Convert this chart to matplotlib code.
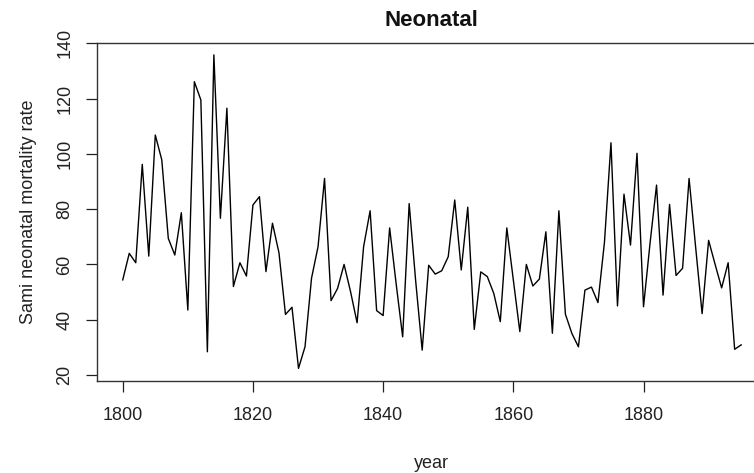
import matplotlib
matplotlib.use("Agg")
import matplotlib.pyplot as plt

years = list(range(1800, 1896))
rate = [
    54.4, 64.0, 60.6, 96.2, 63.0, 106.8, 97.8, 69.4, 63.4, 78.7,
    43.5, 126.1, 119.5, 28.4, 135.8, 76.7, 116.5, 52.0, 60.6, 55.8,
    81.5, 84.5, 57.4, 74.9, 64.2, 41.9, 44.5, 22.4, 30.2, 55.0,
    66.4, 91.1, 46.9, 51.3, 60.0, 50.1, 38.9, 66.4, 79.4, 43.3,
    41.5, 73.2, 53.0, 33.8, 82.0, 54.0, 29.0, 59.7, 56.5, 57.7,
    62.8, 83.3, 58.0, 80.7, 36.5, 57.3, 55.6, 49.5, 39.3, 73.2,
    54.4, 35.7, 60.0, 52.2, 54.7, 71.8, 35.1, 79.4, 42.0, 35.0,
    30.2, 50.7, 51.8, 46.2, 68.0, 104.0, 45.0, 85.4, 67.0, 100.2,
    44.7, 67.6, 88.7, 48.9, 81.7, 56.0, 58.6, 91.1, 66.4, 42.2,
    68.7, 60.0, 51.5, 60.6, 29.3, 30.9,
]
xticks = [1800, 1820, 1840, 1860, 1880]
yticks = [20, 40, 60, 80, 100, 120, 140]

plt.rcParams['font.family'] = ['Liberation Sans', 'DejaVu Sans']

W, H = 754, 473
fig = plt.figure(figsize=(W / 100, H / 100), dpi=100)
left, right, top, bottom = 96.7, 765.9, 42.7, 381.0
ax = fig.add_axes([left / W, 1 - bottom / H, (right - left) / W, (bottom - top) / H])

ax.plot(years, rate, color='black', linewidth=1.0)
ax.set_xlim(1796.0, 1898.8)
ax.set_ylim(17.83, 140.2)

ax.set_xticks(xticks)
ax.set_yticks(yticks)
ax.set_xticklabels([str(t) for t in xticks])
ax.set_yticklabels([str(t) for t in yticks], rotation=90, va='center')
ax.tick_params(axis='both', direction='out', length=7.9, width=0.9,
               labelsize=13, colors='#222222')
ax.tick_params(axis='x', pad=11)
ax.tick_params(axis='y', pad=9)
for s in ax.spines.values():
    s.set_linewidth(1.0)
    s.set_color('#333333')

ax.set_title('Neonatal', fontsize=16, fontweight='bold', pad=12, color='#111111')
ax.set_xlabel('year', fontsize=13, labelpad=22, color='#222222')
ax.set_ylabel('Sami neonatal mortality rate', fontsize=13, labelpad=14, color='#222222')

fig.savefig('out.png', dpi=100)
